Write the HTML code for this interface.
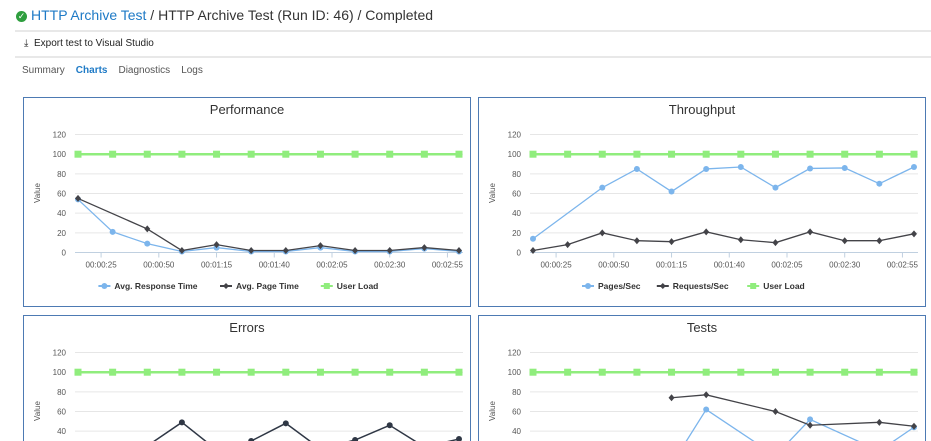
<!DOCTYPE html>
<html><head><meta charset="utf-8">
<style>
html,body{margin:0;padding:0;background:#fff;width:931px;height:441px;overflow:hidden;font-family:"Liberation Sans",sans-serif;}
#hdr{position:absolute;left:16px;top:7px;font-size:14px;color:#333;white-space:nowrap}
#hdr .lnk{color:#1e7ac6}
.chk{display:inline-block;width:11px;height:11px;border-radius:50%;background:#2e9e3e;color:#fff;font-size:9px;line-height:11px;text-align:center;vertical-align:1px;margin-right:4px}
.hr{position:absolute;left:15px;right:0;height:2px;background:#e8e8e8}
#exp{position:absolute;left:24px;top:38px;font-size:10px;color:#222}
#tabs{position:absolute;left:22px;top:65px;font-size:10px;color:#555}
#tabs span{margin-right:11px}
#tabs .act{color:#1e7ac6;font-weight:bold}
svg{position:absolute;left:0;top:0}
</style></head><body>
<div id="hdr"><span class="chk">✓</span><span class="lnk">HTTP Archive Test</span> / HTTP Archive Test (Run ID: 46) / Completed</div>
<div class="hr" style="top:30px"></div>
<div id="exp">⤓&nbsp; Export test to Visual Studio</div>
<div class="hr" style="top:56px"></div>
<div id="tabs"><span>Summary</span><span class="act">Charts</span><span>Diagnostics</span><span>Logs</span></div>
<svg id="svg" width="931" height="441" viewBox="0 0 931 441" xmlns="http://www.w3.org/2000/svg"><defs><clipPath id="clipAll"><rect x="0" y="0" width="931" height="441"/></clipPath></defs><g id="root" clip-path="url(#clipAll)"></g></svg>
<script>
const times=[15,30,45,60,75,90,105,120,135,150,165,180];
const tickTimes=[25,50,75,100,125,150,175];
const tickLabels=["00:00:25","00:00:50","00:01:15","00:01:40","00:02:05","00:02:30","00:02:55"];
const yTicks=[0,20,40,60,80,100,120];
const userLoad=[100,100,100,100,100,100,100,100,100,100,100,100];
const avgResponseTime=[54,21,9,1,5,1,1,5,1,1,4,1];
const avgPageTime=[55,null,24,2,8,2,2,7,2,2,5,2];
const pagesPerSec=[14,null,66,85,62,85,87,66,85.5,86,70,87];
const requestsPerSec=[2,8,20,12,11,21,13,10,21,12,12,19];
const errorsA=[10,15,25,49,21,30,48,22,31,46,24,32];
const testsFailed=[null,null,null,null,6,62,null,15,52,null,20,44];
const testsPassed=[null,null,null,null,74,77,null,60,46,null,49,45];

const NS="http://www.w3.org/2000/svg";
const svg=document.getElementById('root');
function mk(tag,attrs,parent){const e=document.createElementNS(NS,tag);for(const k in attrs)e.setAttribute(k,attrs[k]);(parent||svg).appendChild(e);return e;}
const BLUE="#7cb5ec",DARK="#434348",GREEN="#90ed7d";

function chart(px,py,ph,title,name,series,legend){
  const g=mk('g',{});
  
  
  const x0=px+0.5,y0=py+0.5,x1=px+447.5,y1=py+ph+0.5;
  const d=(y1>=441)?`M${x0} ${y1}L${x0} ${y0}L${x1} ${y0}L${x1} ${y1}`:`M${x0} ${y0}L${x1} ${y0}L${x1} ${y1}L${x0} ${y1}Z`;
  const fr=mk('path',{d:d,fill:'#fff',stroke:'#4d7ab3','stroke-width':1},g);
  
  
  const t=mk('text',{x:px+224,y:py+17,'text-anchor':'middle','font-size':13,fill:'#333'},g);
  t.textContent=title;
  
  
  const xs=v=>px+55+(v-15)*2.309;
  const ys=v=>py+155.5-v*0.983;
  yTicks.forEach(v=>{
    if(ys(v)>440)return;
    const ln=mk('line',{x1:px+52,x2:px+440,y1:ys(v),y2:ys(v),stroke:v===0?'#c0d0e0':'#e6e6e6','stroke-width':1},g);
    
    
    const tx=mk('text',{x:px+43,y:ys(v)+3,'text-anchor':'end','font-size':8,fill:'#555'},g);
    tx.textContent=v;
    
    
  });
  const yt=mk('text',{x:0,y:0,'text-anchor':'middle','font-size':8,fill:'#555',transform:`translate(${px+17},${py+96}) rotate(-90)`},g);
  yt.textContent='Value';
  
  
  if(ys(0)<440){
  tickTimes.forEach((v,i)=>{
    const tk=mk('line',{x1:xs(v),x2:xs(v),y1:ys(0),y2:ys(0)+5,stroke:'#c0d0e0'},g);
    
    
    const tx=mk('text',{x:xs(v),y:ys(0)+15,'text-anchor':'middle','font-size':8,fill:'#555'},g);
    tx.textContent=tickLabels[i];
    
    
  });}
  series.forEach(s=>{
    const pts=[];
    s.data.forEach((v,i)=>{if(v!==null)pts.push([xs(times[i]),ys(v)]);});
    const pl=mk('polyline',{points:pts.map(p=>p.join(',')).join(' '),fill:'none',stroke:s.color,'stroke-width':s.w},g);
    
    
    pts.forEach(p=>{
      let m;
      if(s.m==='c')m=mk('circle',{cx:p[0],cy:p[1],r:3,fill:s.color},g);
      else if(s.m==='s')m=mk('rect',{x:p[0]-3.5,y:p[1]-3.5,width:7,height:7,fill:s.color},g);
      else m=mk('path',{d:`M${p[0]} ${p[1]-3.5}L${p[0]+3} ${p[1]}L${p[0]} ${p[1]+3.5}L${p[0]-3} ${p[1]}Z`,fill:s.color},g);
      
      
    });
  });
  if(legend){
    const widths=legend.map(s=>s.label.length*5.2+28);
    let tot=widths.reduce((a,b)=>a+b,0);
    let lx=px+224-tot/2;
    legend.forEach((s,i)=>{
      const lg=mk('g',{},g);
      
      
      const ly=py+189;
      mk('line',{x1:lx,x2:lx+12,y1:ly,y2:ly,stroke:s.color,'stroke-width':2},lg);
      if(s.m==='c')mk('circle',{cx:lx+6,cy:ly,r:3,fill:s.color},lg);
      else if(s.m==='s')mk('rect',{x:lx+3,y:ly-3,width:6,height:6,fill:s.color},lg);
      else mk('path',{d:`M${lx+6} ${ly-3}L${lx+9} ${ly}L${lx+6} ${ly+3}L${lx+3} ${ly}Z`,fill:s.color},lg);
      const tx=mk('text',{x:lx+16,y:ly+3,'font-size':8.5,'font-weight':'bold',fill:'#333'},lg);
      tx.textContent=s.label;
      lx+=widths[i];
    });
  }
}
const perf=[
 {name:'user-load',data:userLoad,color:GREEN,w:2.5,m:'s',label:'User Load'},
 {name:'avg-response-time',data:avgResponseTime,color:BLUE,w:1.3,m:'c',label:'Avg. Response Time'},
 {name:'avg-page-time',data:avgPageTime,color:DARK,w:1.3,m:'d',label:'Avg. Page Time'}];
chart(23,97,209,'Performance','performance-chart',perf,[perf[1],perf[2],perf[0]]);
const thr=[
 {name:'user-load',data:userLoad,color:GREEN,w:2.5,m:'s',label:'User Load'},
 {name:'pages-per-sec',data:pagesPerSec,color:BLUE,w:1.3,m:'c',label:'Pages/Sec'},
 {name:'requests-per-sec',data:requestsPerSec,color:DARK,w:1.3,m:'d',label:'Requests/Sec'}];
chart(478,97,209,'Throughput','throughput-chart',thr,[thr[1],thr[2],thr[0]]);
chart(23,315,126,'Errors','errors-chart',[
 {name:'user-load',data:userLoad,color:GREEN,w:2.5,m:'s'},
 {name:'errors',data:errorsA,color:'#2f3745',w:1.5,m:'c'}],null);
chart(478,315,126,'Tests','tests-chart',[
 {name:'user-load',data:userLoad,color:GREEN,w:2.5,m:'s'},
 {name:'tests-failed',data:testsFailed,color:BLUE,w:1.3,m:'c'},
 {name:'tests-passed',data:testsPassed,color:DARK,w:1.3,m:'d'}],null);
</script>
</body></html>
